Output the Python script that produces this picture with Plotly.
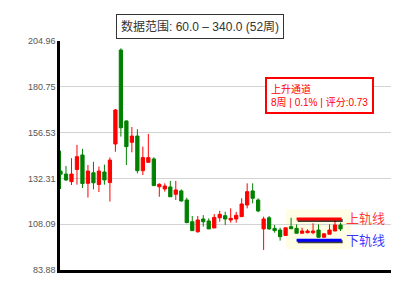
import plotly.graph_objects as go

# ---- data ----
weeks = list(range(52))
opens = [136.2, 134.6, 130.6, 137.0, 144.7, 129.7, 135.3, 129.1, 135.7, 130.1,
         150.5, 200.2, 162.7, 151.4, 154.7, 136.4, 140.8, 142.6, 127.9, 126.7,
         127.8, 123.9, 125.7, 120.9, 109.4, 104.1, 110.85, 109.8, 106.1, 111.5,
         112.6, 110.3, 110.85, 112.1, 118.25, 125.7, 120.9, 105.6, 111.5, 105.9,
         105.0, 102.1, 106.8, 105.9, 103.3, 103.6, 103.6, 105.0, 101.2, 102.8,
         104.5, 107.7]
highs = [147.0, 138.9, 143.0, 150.0, 147.9, 139.4, 141.1, 138.6, 139.6, 143.4,
         169.0, 201.1, 162.9, 159.5, 158.3, 149.1, 155.8, 143.5, 129.7, 129.7,
         131.0, 131.0, 126.5, 122.1, 112.4, 112.4, 112.9, 111.2, 113.5, 115.2,
         114.7, 116.5, 114.6, 121.8, 129.7, 129.7, 121.8, 112.1, 112.4, 107.7,
         106.2, 106.2, 111.5, 108.0, 106.2, 105.4, 108.6, 108.0, 103.3, 108.0,
         110.3, 108.9]
lows = [126.7, 130.9, 128.8, 129.0, 127.2, 122.2, 126.5, 125.1, 129.0, 120.1,
        146.4, 154.4, 139.4, 146.1, 135.0, 134.1, 140.5, 128.3, 122.6, 125.3,
        122.5, 120.9, 120.0, 108.7, 104.7, 103.6, 106.8, 105.6, 106.1, 109.4,
        107.7, 108.9, 108.9, 112.1, 116.5, 119.1, 114.4, 94.5, 105.1, 103.6,
        99.4, 102.1, 105.7, 103.3, 103.3, 103.3, 102.8, 101.0, 101.2, 102.8,
        104.5, 104.5]
closes = [134.5, 131.5, 134.6, 143.8, 129.6, 136.2, 130.0, 136.2, 131.5, 142.0,
          168.5, 159.1, 149.1, 154.7, 136.4, 143.3, 143.3, 128.5, 129.2, 128.3,
          122.6, 126.2, 120.4, 108.9, 104.7, 110.3, 109.4, 105.6, 111.7, 113.3,
          110.85, 111.2, 112.8, 118.8, 125.3, 121.8, 115.1, 110.85, 105.6, 104.7,
          101.5, 106.2, 105.7, 103.3, 104.5, 104.5, 104.5, 101.2, 103.0, 105.0,
          107.7, 105.6]

y_ticks = [83.88, 108.09, 132.31, 156.53, 180.75, 204.96]
y_labels = ["83.88", "108.09", "132.31", "156.53", "180.75", "204.96"]

rail_x = [43, 51.2]
upper_rail = [110.85, 110.85]
lower_rail = [99.6, 99.6]
highlight_x = [41.1, 52.9]
highlight_y = [94.8, 115.9]

title_text = "数据范围: 60.0 – 340.0 (52周)"
channel_name = "上升通道"
channel_info = "8周 | 0.1% | 评分:0.73"
upper_label = "上轨线"
lower_label = "下轨线"

FONT = "Liberation Sans, Arial, Noto Sans CJK SC, sans-serif"

fig = go.Figure()

fig.add_trace(go.Candlestick(
    x=weeks, open=opens, high=highs, low=lows, close=closes,
    increasing=dict(line=dict(color="#ff0000", width=1), fillcolor="#ff0000"),
    decreasing=dict(line=dict(color="#008000", width=1), fillcolor="#008000"),
    whiskerwidth=0, showlegend=False, hoverinfo="skip",
))

# rails with a slight drop shadow
sdx, sdy = 0.2, 0.8
for ys, col in ((upper_rail, "#ff0000"), (lower_rail, "#0000ff")):
    fig.add_trace(go.Scatter(
        x=[v + sdx for v in rail_x], y=[v - sdy for v in ys], mode="lines",
        line=dict(color="rgba(0,0,0,0.75)", width=3), showlegend=False, hoverinfo="skip"))
    fig.add_trace(go.Scatter(
        x=rail_x, y=ys, mode="lines",
        line=dict(color=col, width=3), showlegend=False, hoverinfo="skip"))

# empty trace carrying the overlay axis that labels the two end ticks
fig.add_trace(go.Scatter(x=[None], y=[None], yaxis="y2", showlegend=False, hoverinfo="skip"))

fig.add_shape(type="rect", xref="x", yref="y",
              x0=highlight_x[0], x1=highlight_x[1], y0=highlight_y[0], y1=highlight_y[1],
              fillcolor="#fffde3", line=dict(width=0), layer="below")

fig.add_annotation(x=rail_x[1] + 0.4, y=upper_rail[0], xref="x", yref="y",
                   text=upper_label, showarrow=False, xanchor="left", yanchor="middle",
                   font=dict(family=FONT, size=13, color="rgba(255,0,0,0.8)"))
fig.add_annotation(x=rail_x[1] + 0.4, y=lower_rail[0], xref="x", yref="y",
                   text=lower_label, showarrow=False, xanchor="left", yanchor="middle",
                   font=dict(family=FONT, size=13, color="rgba(0,0,255,0.8)"))

fig.add_annotation(x=47.1, y=176.1, xref="x", yref="y",
                   text=channel_name + "<br>" + channel_info, showarrow=False,
                   align="left", xanchor="center", yanchor="middle",
                   font=dict(family=FONT, size=10, color="#ff0000"),
                   bordercolor="#ff0000", borderwidth=2, borderpad=4, bgcolor="white")

fig.add_annotation(x=0.423, y=1.063, xref="paper", yref="paper",
                   text=title_text, showarrow=False, xanchor="center", yanchor="middle",
                   font=dict(family=FONT, size=12, color="#333333"),
                   bordercolor="#333333", borderwidth=1, borderpad=4, bgcolor="white")

yr = [y_ticks[0], y_ticks[-1]]
tickfont = dict(family=FONT, size=9, color="#555555")
fig.update_layout(
    width=400, height=300,
    margin=dict(l=60, r=9, t=41, b=30),
    paper_bgcolor="white", plot_bgcolor="white",
    boxgap=0.15,
    xaxis=dict(range=[-0.091, 60.198], rangeslider=dict(visible=False),
               showgrid=False, zeroline=False, showticklabels=False, ticks="",
               showline=True, linecolor="black", linewidth=2.5),
    yaxis=dict(range=yr, tickvals=y_ticks[1:-1], ticktext=y_labels[1:-1], showgrid=True,
               gridcolor="#d3d3d3", gridwidth=1,
               zeroline=False, ticks="", showline=True, linecolor="black", linewidth=2.5,
               tickfont=tickfont),
    yaxis2=dict(range=yr, overlaying="y", side="left",
                tickvals=[y_ticks[0], y_ticks[-1]], ticktext=[y_labels[0], y_labels[-1]],
                showgrid=False, zeroline=False, ticks="",
                showline=True, linecolor="black", linewidth=2.5,
                tickfont=tickfont),
    hovermode=False,
)

fig.write_html("out.html")
